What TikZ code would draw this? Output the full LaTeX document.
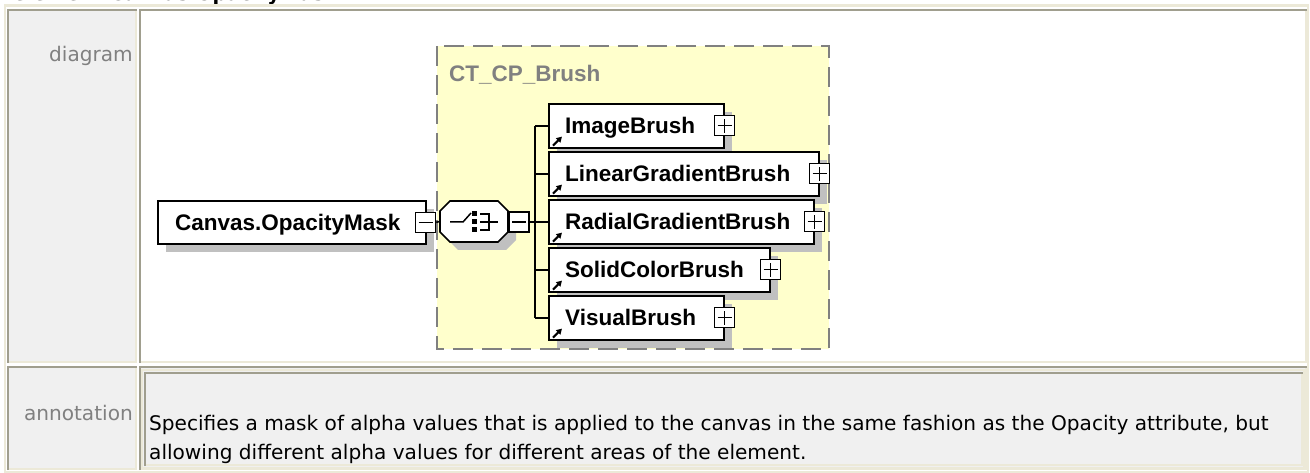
\documentclass[tikz,border=0pt]{standalone}
\usepackage{fontspec}
\setmainfont{DejaVu Sans}
\newfontfamily\dfont{Liberation Sans}
\usetikzlibrary{shadows,arrows.meta}
\definecolor{cream}{RGB}{236,233,216}
\definecolor{cellbd}{RGB}{160,158,142}
\definecolor{cellbg}{RGB}{240,240,240}
\definecolor{lblgray}{RGB}{128,128,128}
\definecolor{grpfill}{RGB}{255,255,204}
\definecolor{grpline}{RGB}{128,128,128}
\definecolor{shadowgray}{RGB}{192,192,192}
\newcommand{\insetcell}[5]{%
  \fill[#5] (#1,#2) rectangle (#3,#4);
  \draw[cellbd, line width=2pt] (#1+1,#4) -- (#1+1,#2+1) -- (#3,#2+1);
  \draw[cream, line width=2pt] (#3-1,#2+2) -- (#3-1,#4-1) -- (#1+2,#4-1);
}
\tikzset{
  elem/.style={draw=black, line width=1.6pt, fill=white, anchor=north west, inner sep=0pt,
    minimum height=44pt,
    drop shadow={shadow xshift=8pt, shadow yshift=-8pt, fill=shadowgray, opacity=1}},
  etext/.style={anchor=base west, inner sep=0pt, font=\dfont\bfseries\fontsize{22.5}{27}\selectfont},
  pmbox/.style={draw=black, line width=1.3pt, fill=white, minimum size=20pt, inner sep=0pt},
  plusbox/.style={pmbox, path picture={\draw[line width=1.3pt]
     ([xshift=-7pt]path picture bounding box.center) -- ([xshift=7pt]path picture bounding box.center)
     ([yshift=-7pt]path picture bounding box.center) -- ([yshift=7pt]path picture bounding box.center);}},
  minusbox/.style={pmbox, path picture={\draw[line width=1.3pt]
     ([xshift=-7pt]path picture bounding box.center) -- ([xshift=7pt]path picture bounding box.center);}},
  conn/.style={line width=1.6pt, draw=black},
  refarrow/.style={line width=2pt, -{Triangle[length=5.5pt,width=6pt]}},
  lbl/.style={anchor=base east, inner sep=0pt, text=lblgray, font=\fontsize{20.1}{24}\selectfont},
  ann/.style={anchor=base west, inner sep=0pt, text=black, font=\fontsize{20.1}{24}\selectfont}
}
\begin{document}
\begin{tikzpicture}[x=1pt,y=-1pt]
\useasboundingbox (0,0) rectangle (1310,473);
\fill[white] (0,0) rectangle (1310,473);
% clipped title
\node[anchor=base west, inner sep=0pt, font=\bfseries\fontsize{19.5}{24}\selectfont] (title) at (13,0.5) {element Canvas.OpacityMask};
% outer table border
\draw[cream, line width=2.5pt] (5,5.5) rectangle (1308,471.8);
% cells
\insetcell{7}{9}{137}{363}{cellbg}
\insetcell{139}{9}{1307}{363}{white}
\insetcell{7}{366}{137}{470}{cellbg}
\insetcell{139}{366}{1307}{470}{cellbg}
\draw[cream, line width=1.5pt] (142,370) rectangle (1304,467.5);
\insetcell{144}{372}{1303}{466}{cellbg}
% row labels
\node[lbl] (dlab) at (133,62) {diagram};
\node[lbl] (alab) at (133,420) {annotation};
% annotation text
\node[ann] (an1) at (149,430) {Specifies a mask of alpha values that is applied to the canvas in the same fashion as the Opacity attribute, but};
\node[ann] (an2) at (149,459) {allowing different alpha values for different areas of the element.};
% group box
\fill[grpfill] (437,46) rectangle (829,349);
\draw[grpline, line width=2pt, dash pattern=on 20pt off 9pt] (437,46) rectangle (829,349);
\node[anchor=base west, inner sep=0pt, text=lblgray, font=\dfont\bfseries\fontsize{22.5}{27}\selectfont] (grp) at (449,82) {CT\_CP\_Brush};
% canvas element
\node[elem, minimum width=268pt, minimum height=43pt] (canvas) at (157,200) {};
\node[etext] (canvast) at ([shift={(18,8)}]canvas.west) {Canvas.OpacityMask};
\node[minusbox] (cm) at ([xshift=-1pt]canvas.east) {};
% sequence compositor
\fill[shadowgray] (458,209)--(506,209)--(516,219)--(516,240)--(506,250)--(458,250)--(448,240)--(448,219)--cycle;
\draw[line width=1.6pt, fill=white] (450,201)--(498,201)--(508,211)--(508,232)--(498,242)--(450,242)--(440,232)--(440,211)--cycle;
\node[minimum width=68pt, minimum height=41pt, inner sep=0pt] (seq) at (474,221.5) {};
\draw[line width=1.5pt] (450,222) -- (463,222) -- (471,213);
\fill (472,211) rectangle (477,216);
\fill (472,219) rectangle (477,224);
\fill (472,227) rectangle (477,232);
\draw[line width=1.5pt] (480,214) -- (489,214) -- (489,230) -- (480,230) (480,222) -- (498,222);
\node[minusbox] (sm) at (519,222) {};
% child elements
\node[elem, minimum width=175pt] (ib) at (548,103) {};
\node[elem, minimum width=270pt] (lg) at (548,151) {};
\node[elem, minimum width=265pt] (rg) at (548,199) {};
\node[elem, minimum width=221pt] (sc) at (548,247) {};
\node[elem, minimum width=175pt] (vb) at (548,295) {};
\foreach \n/\t in {ib/ImageBrush, lg/LinearGradientBrush, rg/RadialGradientBrush, sc/SolidColorBrush, vb/VisualBrush}{
  \node[etext] (\n t) at ([shift={(17,8)}]\n.west) {\t};
  \node[plusbox] (\n p) at (\n.east) {};
  \draw[refarrow] ([shift={(5,-3)}]\n.south west) -- ++(9,-9);
}
% connectors
\coordinate (tr) at (535,222);
\draw[conn] (cm.east) -- (seq.west);
\draw[conn] (seq.east) -- (sm.west);
\draw[conn] (sm.east) -- (tr);
\draw[conn] (tr |- ib.west) -- (tr |- vb.west);
\foreach \n in {ib,lg,rg,sc,vb}{
  \draw[conn] (tr |- \n.west) -- (\n.west);
}
\end{tikzpicture}
\end{document}
